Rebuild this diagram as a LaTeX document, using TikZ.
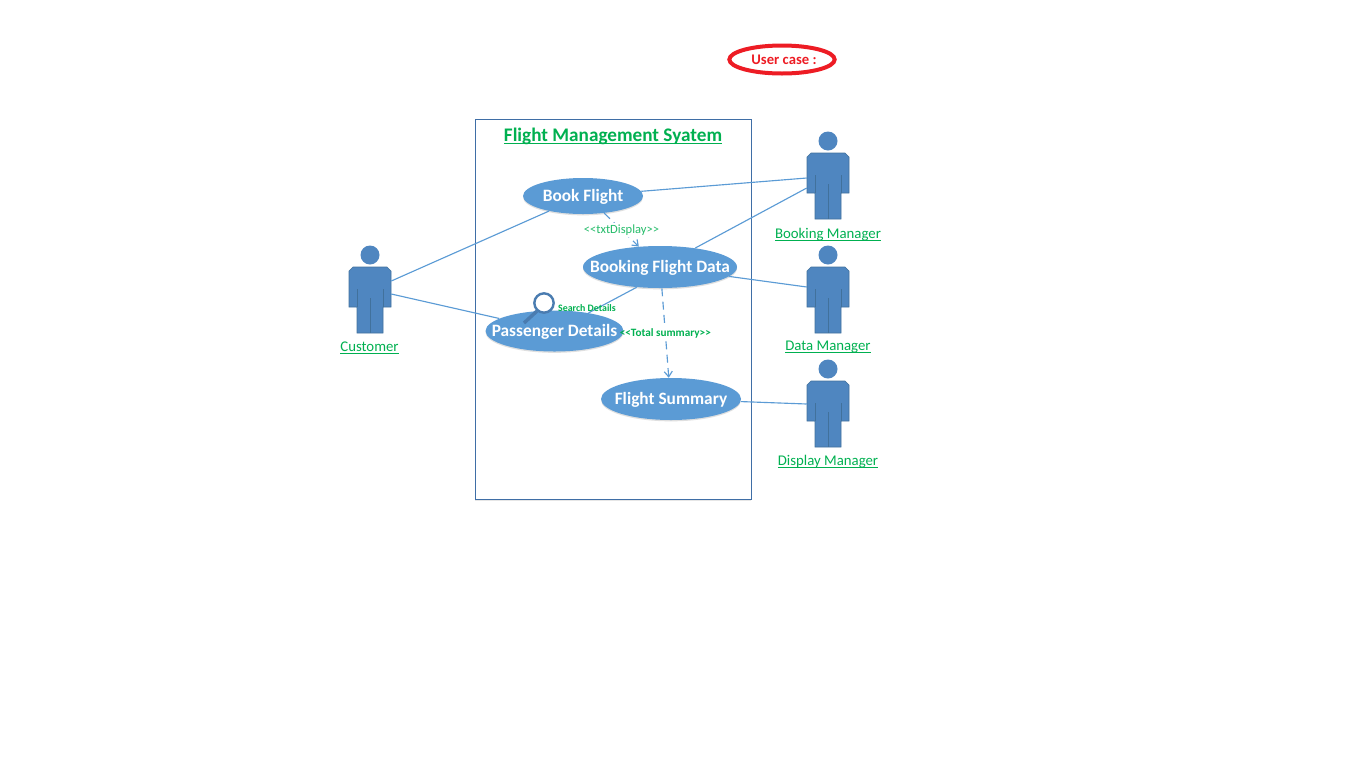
\documentclass[tikz,border=0pt]{standalone}
\usepackage{fontspec}
\setmainfont{Carlito}
\usetikzlibrary{shapes.geometric,arrows.meta,shadows}
\newcommand{\lowrule}[1]{\setbox0=\hbox{#1}\rlap{\vrule width\wd0 height -1.0pt depth 1.7pt}\box0}
\definecolor{usecaseblue}{HTML}{5B9BD5}
\definecolor{actorblue}{HTML}{4F86C0}
\definecolor{actorline}{HTML}{41719C}
\definecolor{lensblue}{HTML}{4A7CB0}
\definecolor{boxline}{HTML}{3F6EA6}
\definecolor{labelgreen}{HTML}{00B050}
\definecolor{markred}{HTML}{ED1C24}
\tikzset{
    usecase/.style={ellipse, fill=usecaseblue, inner xsep=-14pt, inner ysep=0pt, text=white,
        text height=10pt, text depth=1.5pt,
        font=\fontsize{13}{15}\selectfont\bfseries,
        drop shadow={opacity=0.25, shadow xshift=0pt, shadow yshift=-1pt}},
    assoc/.style={usecaseblue, line width=0.85pt},
    depend/.style={usecaseblue, line width=0.85pt, dash pattern=on 6pt off 4pt,
        -{Straight Barb[length=4pt,width=6pt]}},
    actorname/.style={text=labelgreen, font=\fontsize{11.1}{13}\selectfont},
    deplabel/.style={text=labelgreen, fill=white, inner ysep=1pt, inner xsep=-3pt},
    actor/.pic={
        \node[rectangle, minimum width=31.5pt, minimum height=49.5pt, inner sep=0pt] (body) at (0,0) {};
        \fill[actorblue] (0,-45) circle (9.5);
        \draw[actorline, fill=actorblue, line width=0.5pt]
            (-17,-33) -- (17,-33) -- (21,-29) -- (21,7) -- (13,7) -- (13,33)
            -- (-13,33) -- (-13,7) -- (-21,7) -- (-21,-29) -- cycle;
        \draw[actorline, line width=0.5pt] (-13,-11) -- (-13,7) (13,-11) -- (13,7) (0,-2) -- (0,33);
    }
}
\begin{document}
\begin{tikzpicture}[x=0.75pt, y=-0.75pt]
    \useasboundingbox (0,0) rectangle (1366,768);
    % system box
    \node[draw=boxline, line width=0.75pt, minimum width=207.25pt, minimum height=285pt,
        inner sep=0pt, fill=white, drop shadow={opacity=0.2, shadow xshift=0pt, shadow yshift=-1pt}] (system) at (613.3,309.5) {};
    \node[text=labelgreen, font=\fontsize{14.4}{17}\selectfont\bfseries] (systemname) at (613,136.5) {\lowrule{Flight Management Syatem}};
    % actors
    \pic (customer) at (370,300) {actor};
    \pic (booking) at (828,186) {actor};
    \pic (data) at (828,300) {actor};
    \pic (display) at (828,414) {actor};
    \node[actorname] (customername) at (369.5,347.5) {\lowrule{Customer}};
    \node[actorname] (bookingname) at (828,234.5) {\lowrule{Booking Manager}};
    \node[actorname] (dataname) at (828,347.5) {\lowrule{Data Manager}};
    \node[actorname] (displayname) at (828,461.5) {\lowrule{Display Manager}};
    % use cases
    \node[usecase, minimum width=90pt, minimum height=27pt] (book) at (583,196) {Book Flight};
    \node[usecase, minimum width=115.5pt, minimum height=31.5pt] (bookingdata) at (660,267) {Booking Flight Data};
    \node[usecase, minimum width=103.5pt, minimum height=30.75pt] (passenger) at (554.5,331) {Passenger Details};
    \node[usecase, minimum width=105pt, minimum height=31.5pt] (summary) at (671,399) {Flight Summary};
    % associations
    \draw[assoc] (book) -- (bookingbody.west |- 0,178);
    \draw[assoc] (bookingdata) -- (bookingbody.west |- 0,188);
    \draw[assoc] (bookingdata) -- (databody.west |- 0,287);
    \draw[assoc] (summary) -- (displaybody.west |- 0,404);
    \draw[assoc] (customerbody.east |- 0,281) -- (book);
    \draw[assoc] (customerbody.east |- 0,294) -- (passenger);
    \draw[assoc] (bookingdata.221) -- (passenger);
    % dependencies
    \draw[depend] (book.-39) -- (bookingdata.136) node[midway, deplabel, font=\fontsize{9.4}{11}\selectfont, text=labelgreen!85!white] (txtdisplay) {<{}<txtDisplay>{}>};
    \draw[depend] (bookingdata.-85) -- (summary.96) node[midway, deplabel, yshift=-0.5pt, font=\fontsize{8.4}{10}\selectfont\bfseries] (totalsummary) {<{}<Total summary>{}>};
    % search details
    \draw[lensblue, line width=2.6pt] (537,311) -- (524,323);
    \node[circle, draw=lensblue, fill=white, line width=1.8pt, minimum size=14.5pt, inner sep=0pt] (lens) at (544,303) {};
    \node[text=labelgreen, inner sep=0pt, font=\fontsize{7.4}{9}\selectfont\bfseries] (searchdetails) at (587,308) {Search Details};
    % title mark
    \node[ellipse, draw=markred, line width=3pt, minimum width=79pt, minimum height=21pt, inner sep=0pt,
        text=markred, font=\fontsize{11}{13}\selectfont\bfseries] (usercase) at (782,59.5) {\hspace*{3pt}User case :};
\end{tikzpicture}
\end{document}
